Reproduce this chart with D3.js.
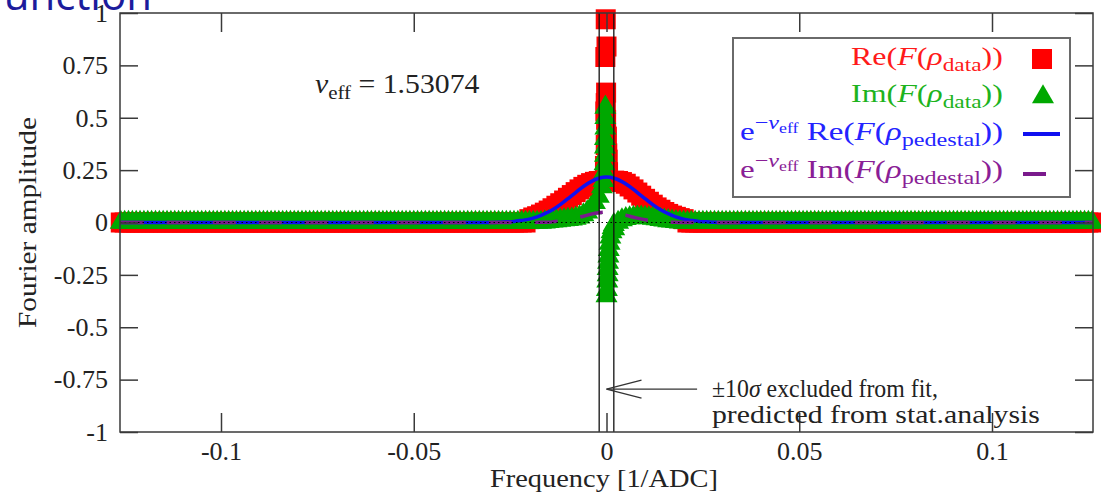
<!DOCTYPE html>
<html>
<head>
<meta charset="utf-8">
<script src="https://cdn.jsdelivr.net/npm/d3@7"></script>
<style>
  body { margin: 0; background: #fff; }
  svg { display: block; }
  text { font-family: "Liberation Serif", "Times New Roman", serif; }
</style>
</head>
<body>
<div id="chart"></div>
<script>
// ---- tick labels ----
const xTicks = [-0.1, -0.05, 0, 0.05, 0.1];
const xTickLabels = ["-0.1", "-0.05", "0", "0.05", "0.1"];
const yTicks = [1, 0.75, 0.5, 0.25, 0, -0.25, -0.5, -0.75, -1];
const yTickLabels = ["1", "0.75", "0.5", "0.25", "0", "-0.25", "-0.5", "-0.75", "-1"];

// ---- data ----
// frequency bins of the transform (1/ADC), step 0.001 from -0.126 to 0.126
// outside +-0.02 both data series read flat at 0
// central window, negative side -0.020 .. -0.002
const reLeft = [0.016, 0.024, 0.030, 0.038, 0.047, 0.057, 0.068, 0.080, 0.092, 0.105,
                0.118, 0.131, 0.145, 0.158, 0.170, 0.180, 0.188, 0.194, 0.198];
// positive side 0.002 .. 0.020
const reRight = [0.200, 0.198, 0.193, 0.185, 0.172, 0.158, 0.143, 0.128, 0.113, 0.099,
                 0.085, 0.072, 0.061, 0.050, 0.041, 0.033, 0.027, 0.021, 0.016];
const imLeft = [0.0, 0.0, 0.0, 0.0, 0.002, 0.004, 0.006, 0.008, 0.010, 0.012,
                0.014, 0.016, 0.020, 0.026, 0.036, 0.050, 0.070, 0.095, 0.125];
const imRight = [-0.030, 0.0, 0.012, 0.018, 0.022, 0.024, 0.025, 0.025, 0.024, 0.022,
                 0.020, 0.017, 0.014, 0.011, 0.008, 0.006, 0.004, 0.002, 0.001];

// points inside the excluded +-10 sigma band
const reSpikeFreq = [-0.0004, -0.0003, -0.0003, -0.0002, -0.0002, -0.0002, -0.0001, -0.0001,
                     0.0000, 0.0001, 0.0002, 0.0003, 0.0004];
const reSpikeVal = [0.27, 0.53, 0.79, 0.97, 0.57, 0.37, 0.62, 0.49, 0.84, 0.41, 0.33, 0.30, 0.24];
const imSpikeFreq = [-0.0012, -0.0008, -0.0006, -0.0005, -0.0004, -0.0004, -0.0004, -0.0003,
                     -0.0003, -0.0003, 0.0000, 0.0001, 0.0002, 0.0003, 0.0003, 0.0004, 0.0005,
                     0.0006, 0.0008, 0.0010, 0.0013, 0.0016, 0.0019];
const imSpikeVal = [0.17, 0.20, 0.24, 0.28, 0.32, 0.36, 0.40, 0.45,
                    0.50, 0.55, -0.35, -0.32, -0.28, -0.25, -0.22, -0.19, -0.16,
                    -0.13, -0.10, -0.07, -0.045, -0.025, -0.01];

// e^-nu Re/Im of the pedestal transform
const pedFreq = [-0.126, -0.030, -0.028, -0.026, -0.024, -0.022, -0.020, -0.018, -0.016, -0.014,
                 -0.012, -0.010, -0.008, -0.006, -0.004, -0.002, 0.000, 0.002, 0.004, 0.006,
                 0.008, 0.010, 0.012, 0.014, 0.016, 0.018, 0.020, 0.022, 0.024, 0.026,
                 0.028, 0.030, 0.126];
const pedRe = [0, 0, 0.001, 0.003, 0.005, 0.010, 0.016, 0.027, 0.042, 0.061,
               0.085, 0.114, 0.143, 0.172, 0.195, 0.211, 0.217, 0.211, 0.195, 0.172,
               0.143, 0.114, 0.085, 0.061, 0.042, 0.027, 0.016, 0.010, 0.005, 0.003,
               0.001, 0, 0];
const pedIm = [0, 0, 0, 0, 0, 0, 0, 0.0006, 0.0015, 0.003,
               0.007, 0.013, 0.021, 0.030, 0.040, 0.047, 0.050, 0.047, 0.040, 0.030,
               0.021, 0.013, 0.007, 0.003, 0.0015, 0.0006, 0, 0, 0, 0,
               0, 0, 0];

const nuEff = "1.53074";
const exclHalf = 0.0019;   // 10 sigma

// ---- build series ----
function centralValue(f, left, right) {
  const k = Math.round(Math.abs(f) * 1000);
  if (k > 20) return 0;
  return f < 0 ? left[20 - k] : right[k - 2];
}
const bins = d3.range(-126, 127).map(i => i / 1000).filter(f => Math.abs(f) >= 0.0015);
let reData = bins.map(f => ({f, v: centralValue(f, reLeft, reRight)}));
reData = reData.concat(reSpikeFreq.map((f, i) => ({f, v: reSpikeVal[i]})));
let imData = bins.map(f => ({f, v: centralValue(f, imLeft, imRight)}));
imData = imData.concat(imSpikeFreq.map((f, i) => ({f, v: imSpikeVal[i]})));
const pedReData = pedFreq.map((f, i) => ({f, v: pedRe[i]}));
const pedImData = pedFreq.map((f, i) => ({f, v: pedIm[i]}));

// ---- chart ----
const W = 1101, H = 494;
const svg = d3.select("#chart").append("svg").attr("width", W).attr("height", H);

const x = d3.scaleLinear().domain([-0.1262, 0.1262]).range([120, 1093]);
const y = d3.scaleLinear().domain([-1, 1]).range([432, 13]);
const axisColor = "#3a3a3a";
const ink = "#222";

// cropped slide title
svg.append("text").attr("x", 152).attr("y", 10).attr("text-anchor", "end")
  .style("font-family", "'Open Sans', 'Noto Sans', sans-serif")
  .attr("font-size", 42).attr("fill", "#1c1c9c").text("Function");

// data points
svg.append("g").selectAll("path").data(reData).join("path")
  .attr("transform", d => `translate(${x(d.f)},${y(d.v)})`)
  .attr("d", d3.symbol(d3.symbolSquare, 400))
  .attr("fill", "#ff0000");
svg.append("g").selectAll("path").data(imData).join("path")
  .attr("transform", d => `translate(${x(d.f)},${y(d.v)})`)
  .attr("d", d3.symbol(d3.symbolTriangle, 210))
  .attr("fill", "#00a800");

const line = d3.line().x(d => x(d.f)).y(d => y(d.v)).curve(d3.curveMonotoneX);
svg.append("path").datum(pedReData).attr("d", line)
  .attr("fill", "none").attr("stroke", "#1010f0").attr("stroke-width", 3.5);
svg.append("path").datum(pedImData).attr("d", line)
  .attr("fill", "none").attr("stroke", "#7a1a8c").attr("stroke-width", 3.5)
  .attr("stroke-dasharray", "23,23");

// zero axis
svg.append("line").attr("x1", x.range()[0]).attr("x2", x.range()[1])
  .attr("y1", y(0)).attr("y2", y(0))
  .attr("stroke", "#000").attr("stroke-width", 1).attr("stroke-dasharray", "1.5,3");

// excluded band
[-exclHalf, exclHalf].forEach(f => {
  svg.append("line").attr("x1", x(f)).attr("x2", x(f)).attr("y1", y(1)).attr("y2", y(-1))
    .attr("stroke", "#111").attr("stroke-width", 1.3);
});

// axes
function styleAxis(g) {
  g.select(".domain").remove();
  g.selectAll(".tick line").attr("stroke", axisColor).attr("stroke-width", 1.5);
  g.selectAll(".tick text").attr("font-size", 26).attr("fill", ink)
    .style("font-family", "'Liberation Serif', serif");
}
svg.append("g").attr("transform", `translate(0,${y(-1)})`)
  .call(d3.axisBottom(x).tickValues(xTicks).tickFormat((d, i) => xTickLabels[i]).tickSize(-19).tickPadding(10))
  .call(styleAxis);
svg.append("g").attr("transform", `translate(0,${y(1)})`)
  .call(d3.axisTop(x).tickValues(xTicks).tickFormat("").tickSize(-19))
  .call(styleAxis);
svg.append("g").attr("transform", `translate(${x.range()[0]},0)`)
  .call(d3.axisLeft(y).tickValues(yTicks).tickFormat((d, i) => yTickLabels[i]).tickSize(-18).tickPadding(12))
  .call(styleAxis);
svg.append("g").attr("transform", `translate(${x.range()[1]},0)`)
  .call(d3.axisRight(y).tickValues(yTicks).tickFormat("").tickSize(-18))
  .call(styleAxis);

svg.append("rect").attr("x", 120).attr("y", 13).attr("width", 973).attr("height", 419)
  .attr("fill", "none").attr("stroke", axisColor).attr("stroke-width", 1.5);

// rich text, left aligned at (px,py) and stretched to the given width
// (Computer Modern in the original is wider than the serif we have)
function rich(parent, px, py, width, parts, color, size, rotate) {
  const g = parent.append("g");
  const t = g.append("text").attr("x", 0).attr("y", 0).attr("fill", color).attr("font-size", size);
  parts.forEach(p => {
    const s = t.append("tspan").text(p.t);
    if (p.i) s.attr("font-style", "italic");
    if (p.s) s.attr("font-size", p.s);
    if (p.dy) s.attr("dy", p.dy);
  });
  const w = t.node().getBBox().width;
  const k = width / w;
  g.attr("transform", `translate(${px},${py})${rotate ? " rotate(" + rotate + ")" : ""} scale(${k},1)`);
  return g;
}

// nu_eff label
rich(svg, 315, 93, 165, [{t: "ν", i: 1}, {t: "eff", s: 19, dy: 6}, {t: " = " + nuEff, dy: -6}], ink, 27);

// legend
const lg = svg.append("g");
lg.append("rect").attr("x", 733).attr("y", 38).attr("width", 337).attr("height", 159)
  .attr("fill", "#fff").attr("stroke", "#6a6a6a").attr("stroke-width", 2);
const dataParts = (part) => [{t: part + "("}, {t: "F", i: 1}, {t: "("}, {t: "ρ", i: 1},
  {t: "data", s: 19, dy: 6}, {t: "))", dy: -6}];
const pedParts = (part) => [{t: "e"}, {t: "−", s: 19, dy: -11}, {t: "ν", i: 1, s: 19}, {t: "eff", s: 14, dy: 4},
  {t: " " + part + "(", dy: 7}, {t: "F", i: 1}, {t: "("}, {t: "ρ", i: 1}, {t: "pedestal", s: 19, dy: 6}, {t: "))", dy: -6}];
rich(lg, 851, 65, 152, dataParts("Re"), "#ff1a1a", 26);
rich(lg, 851, 102, 152, dataParts("Im"), "#1db31d", 26);
rich(lg, 740, 140, 263, pedParts("Re"), "#2424ff", 26);
rich(lg, 740, 178, 263, pedParts("Im"), "#8a1e96", 26);
lg.append("path").attr("transform", "translate(1042,59)").attr("d", d3.symbol(d3.symbolSquare, 400)).attr("fill", "#ff0000");
lg.append("path").attr("transform", "translate(1043,97)").attr("d", d3.symbol(d3.symbolTriangle, 210)).attr("fill", "#00a800");
lg.append("line").attr("x1", 1023).attr("x2", 1060).attr("y1", 134).attr("y2", 134).attr("stroke", "#1010f0").attr("stroke-width", 4);
lg.append("line").attr("x1", 1023).attr("x2", 1046).attr("y1", 174).attr("y2", 174).attr("stroke", "#7a1a8c").attr("stroke-width", 4);

// arrow + annotation
const ay = y(-0.795);
const tipX = x(0), tailX = x(0.0235);
svg.append("line").attr("x1", tailX).attr("x2", tipX).attr("y1", ay).attr("y2", ay).attr("stroke", "#333").attr("stroke-width", 1.3);
svg.append("path").attr("d", `M${tipX + 35},${ay - 9}L${tipX},${ay}L${tipX + 35},${ay + 9}`)
  .attr("fill", "none").attr("stroke", "#333").attr("stroke-width", 1.3);
rich(svg, 712, 397, 226, [{t: "±10"}, {t: "σ", i: 1}, {t: " excluded from fit,"}], ink, 25);
rich(svg, 712, 423, 328, [{t: "predicted from stat.analysis"}], ink, 25);

// axis titles
rich(svg, 36, 328, 211, [{t: "Fourier amplitude"}], ink, 26, -90);
rich(svg, 490, 487, 228, [{t: "Frequency [1/ADC]"}], ink, 26);
</script>
</body>
</html>
